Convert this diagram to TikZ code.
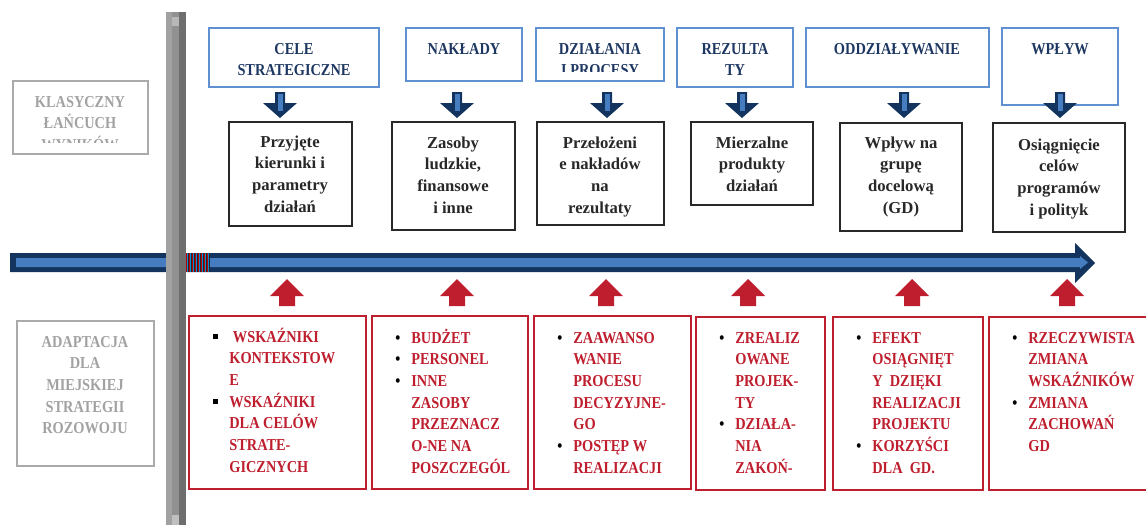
\documentclass[tikz,border=0pt]{standalone}
\usepackage{fontspec}
\setmainfont{Liberation Serif}
\newfontfamily\capfont{Liberation Serif}[FakeStretch=0.86]

\definecolor{navyc}{RGB}{19,52,94}
\definecolor{stripec}{RGB}{70,125,192}
\definecolor{hboxc}{RGB}{95,145,208}
\definecolor{htextc}{RGB}{30,55,98}
\definecolor{redc}{RGB}{190,30,45}
\definecolor{greyt}{RGB}{162,162,162}
\definecolor{greyb}{RGB}{170,170,170}
\definecolor{darkt}{RGB}{40,40,40}

\newcommand{\ctr}[1]{\parbox[t]{3.4cm}{\centering #1}}
\newcommand{\lft}[1]{\parbox[t]{3.4cm}{\raggedright #1}}
\newcommand{\rbul}{\makebox[0.32cm][l]{\color{black}\textbullet}}
\newcommand{\sbul}{\makebox[0.32cm][l]{\color{black}\rule[1.6pt]{2.8pt}{2.8pt}}}
\newcommand{\ind}{\hspace*{0.32cm}}

% block arrows, #1 = x of the centre
\newcommand{\downarr}[1]{%
  \fill[navyc] (#1-5,92) -- (#1+5,92) -- (#1+5,103) -- (#1+17,103) -- (#1,118)
    -- (#1-17,103) -- (#1-5,103) -- cycle;
  \fill[stripec] (#1-2.5,94) rectangle (#1+2.5,111);}
\newcommand{\uparr}[1]{%
  \fill[redc] (#1,279) -- (#1+17,296) -- (#1+8,296) -- (#1+8,306) -- (#1-8,306)
    -- (#1-8,296) -- (#1-17,296) -- cycle;}

\tikzset{
  hbox/.style={draw=hboxc, line width=1.2pt},
  mbox/.style={draw=darkt, line width=1.2pt},
  rbox/.style={draw=redc, line width=1.3pt},
  gbox/.style={draw=greyb, line width=1.3pt},
  htxt/.style={inner sep=0, anchor=base, text=htextc,
    font=\capfont\bfseries\fontsize{9.5}{12.35}\selectfont},
  mtxt/.style={inner sep=0, anchor=base, text=darkt,
    font=\bfseries\fontsize{9.5}{12.35}\selectfont},
  rtxt/.style={inner sep=0, anchor=base west, text=redc,
    font=\capfont\bfseries\fontsize{9.5}{12.35}\selectfont},
  gtxt/.style={inner sep=0, anchor=base, text=greyt,
    font=\capfont\bfseries\fontsize{9.5}{12.35}\selectfont}
}

\begin{document}
\begin{tikzpicture}[x=0.02cm, y=-0.02cm]
\useasboundingbox (0,0) rectangle (1146,525);

% time axis
\fill[navyc] (10,253) -- (1075,253) -- (1075,243) -- (1095,263) -- (1075,283)
  -- (1075,272) -- (10,272) -- cycle;
\fill[stripec] (16,258) -- (1080,258) -- (1080,256) -- (1088,262.5) -- (1080,269)
  -- (1080,267) -- (16,267) -- cycle;
\fill[black!85] (186,253) rectangle (210,272);
\foreach \i in {0,...,7} {
  \fill[red!75!black] (186+3*\i,253) rectangle ++(1,19);
  \fill[cyan!70!blue] (187+3*\i,253) rectangle ++(1,19);
}

% grey divider
\fill[black!37] (166,12) rectangle (172,525);
\fill[black!43] (172,12) rectangle (179,525);
\fill[black!57] (179,12) rectangle (186,525);
\fill[black!28] (172,17) rectangle (179,26);
\fill[black!25] (172,515) rectangle (179,525);

% left labels
\draw[gbox] (13,81) rectangle (148,154);
\begin{scope}
  \clip (13,81) rectangle (148,142);
  \node[gtxt] (klas) at (80,107) {\ctr{KLASYCZNY\\ŁAŃCUCH\\WYNIKÓW}};
\end{scope}
\draw[gbox] (17,321) rectangle (154,466);
\node[gtxt] (adap) at (85,347) {\ctr{ADAPTACJA\\DLA\\MIEJSKIEJ\\STRATEGII\\ROZOWOJU}};

% top row
\draw[hbox] (209,28) rectangle (379,87);
\draw[hbox] (406,28) rectangle (522,81);
\draw[hbox] (536,28) rectangle (664,81);
\draw[hbox] (677,28) rectangle (793,87);
\draw[hbox] (806,28) rectangle (989,87);
\draw[hbox] (1002,28) rectangle (1118,105);
\node[htxt] (cele) at (294,54) {\ctr{CELE\\STRATEGICZNE}};
\node[htxt] (nakl) at (464,54) {\ctr{NAKŁADY}};
\begin{scope}
  \clip (536,28) rectangle (664,71);
  \node[htxt] (dzia) at (600,54) {\ctr{DZIAŁANIA\\I PROCESY}};
\end{scope}
\node[htxt] (rezu) at (735,54) {\ctr{REZULTA\\TY}};
\node[htxt] (oddz) at (897,54) {\ctr{ODDZIAŁYWANIE}};
\node[htxt] (wply) at (1060,54) {\ctr{WPŁYW}};

\downarr{280} \downarr{457} \downarr{607} \downarr{742} \downarr{904} \downarr{1060}

% middle row
\draw[mbox] (229,122) rectangle (352,226);
\draw[mbox] (392,122) rectangle (515,230);
\draw[mbox] (537,122) rectangle (664,225);
\draw[mbox] (691,122) rectangle (813,205);
\draw[mbox] (840,123) rectangle (962,231);
\draw[mbox] (993,123) rectangle (1125,232);
\node[mtxt] (przy) at (290,147) {\ctr{Przyjęte\\kierunki i\\parametry\\działań}};
\node[mtxt] (zaso) at (453,148) {\ctr{Zasoby\\ludzkie,\\finansowe\\i inne}};
\node[mtxt] (prze) at (600,148) {\ctr{Przełożeni\\e nakładów\\na\\rezultaty}};
\node[mtxt] (mier) at (752,148) {\ctr{Mierzalne\\produkty\\działań}};
\node[mtxt] (grup) at (901,148) {\ctr{Wpływ na\\grupę\\docelową\\(GD)}};
\node[mtxt] (osia) at (1059,150) {\ctr{Osiągnięcie\\celów\\programów\\i polityk}};

\uparr{287} \uparr{457} \uparr{606} \uparr{748} \uparr{912} \uparr{1067}

% bottom row
\draw[rbox] (189,316) rectangle (366,489);
\draw[rbox] (372,316) rectangle (528,489);
\draw[rbox] (534,316) rectangle (691,489);
\draw[rbox] (696,317) rectangle (825,490);
\draw[rbox] (833,317) rectangle (983,490);
\draw[rbox] (989,317) rectangle (1152,490);
\node[rtxt] (wsk) at (213,342) {\lft{\sbul\ WSKAŹNIKI\\\ind KONTEKSTOW\\\ind E\\
  \sbul WSKAŹNIKI\\\ind DLA CELÓW\\\ind STRATE-\\\ind GICZNYCH}};
\node[rtxt] (bud) at (395,343) {\lft{\rbul BUDŻET\\\rbul PERSONEL\\\rbul INNE\\
  \ind ZASOBY\\\ind PRZEZNACZ\\\ind O-NE NA\\\ind POSZCZEGÓL}};
\node[rtxt] (zaa) at (557,343) {\lft{\rbul ZAAWANSO\\\ind WANIE\\\ind PROCESU\\
  \ind DECYZYJNE-\\\ind GO\\\rbul POSTĘP W\\\ind REALIZACJI}};
\node[rtxt] (zre) at (719,343) {\lft{\rbul ZREALIZ\\\ind OWANE\\\ind PROJEK-\\
  \ind TY\\\rbul DZIAŁA-\\\ind NIA\\\ind ZAKOŃ-}};
\node[rtxt] (efe) at (856,343) {\lft{\rbul EFEKT\\\ind OSIĄGNIĘT\\\ind Y~~DZIĘKI\\
  \ind REALIZACJI\\\ind PROJEKTU\\\rbul KORZYŚCI\\\ind DLA~~GD.}};
\node[rtxt] (rze) at (1012,343) {\lft{\rbul RZECZYWISTA\\\ind ZMIANA\\\ind WSKAŹNIKÓW\\
  \rbul ZMIANA\\\ind ZACHOWAŃ\\\ind GD}};
\end{tikzpicture}
\end{document}
